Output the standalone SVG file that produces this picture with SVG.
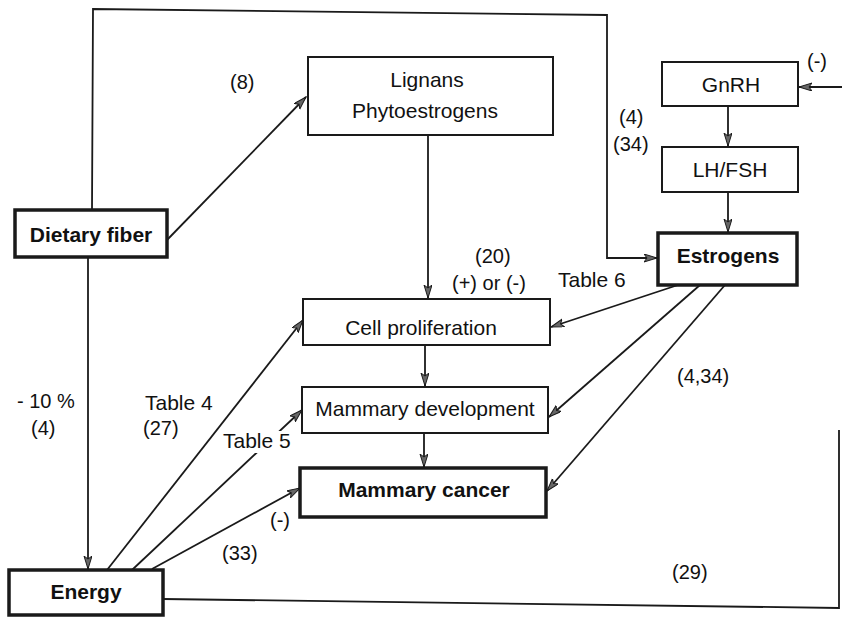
<svg xmlns="http://www.w3.org/2000/svg" width="842" height="621" viewBox="0 0 842 621">
  <style>
    .box { fill: #fff; stroke: #1a1a1a; stroke-width: 2; }
    .bold { fill: #fff; stroke: #1a1a1a; stroke-width: 3.5; }
    .t { font-family: "Liberation Sans", Arial, sans-serif; font-size: 21px; fill: #111; text-anchor: middle; }
    .tb { font-family: "Liberation Sans", Arial, sans-serif; font-size: 21px; font-weight: bold; fill: #111; text-anchor: middle; }
    .lbl { font-family: "Liberation Sans", Arial, sans-serif; font-size: 20px; fill: #111; }
    .ln { fill: none; stroke: #1a1a1a; stroke-width: 1.8; }
    .arr { marker-end: url(#ah); }
  </style>
  <defs>
    <marker id="ah" markerUnits="userSpaceOnUse" markerWidth="14" markerHeight="10" refX="13" refY="4" orient="auto">
      <path d="M0,0 L13,4 L0,8 L3,4 z" fill="#666" stroke="#1a1a1a" stroke-width="1"/>
    </marker>
  </defs>
  <rect width="842" height="621" fill="#fff"/>

  <!-- connectors -->
  <g id="connectors">
    <path class="ln arr" d="M167,240 L306,97"/>
    <path class="ln arr" d="M92,210 L93,9 L607,15 L607,258 L657,258"/>
    <path class="ln arr" d="M842,87 L799,87"/>
    <path class="ln arr" d="M728,106 L728,146"/>
    <path class="ln arr" d="M728,192 L728,232"/>
    <path class="ln arr" d="M428,136 L428,298"/>
    <path class="ln arr" d="M678,285 L551,327"/>
    <path class="ln arr" d="M700,285 L549,417"/>
    <path class="ln arr" d="M725,285 L547,491"/>
    <path class="ln arr" d="M425,345 L425,386"/>
    <path class="ln arr" d="M424,433 L424,467"/>
    <path class="ln arr" d="M88,257 L88,569"/>
    <path class="ln arr" d="M107,570 L303,320"/>
    <path class="ln arr" d="M132,570 L302,410"/>
    <path class="ln arr" d="M152,569 L300,488"/>
    <path class="ln" d="M163,599 L839,608 L839,430"/>
  </g>

  <!-- edge labels -->
  <g id="labels">
    <text class="lbl" x="230" y="89">(8)</text>
    <text class="lbl" x="619" y="124">(4)</text>
    <text class="lbl" x="613" y="151">(34)</text>
    <text class="lbl" x="807" y="68">(-)</text>
    <text class="lbl" x="475" y="263">(20)</text>
    <text class="lbl" x="452" y="290">(+) or (-)</text>
    <text class="lbl" x="558" y="287" style="font-size:21px">Table 6</text>
    <text class="lbl" x="677" y="383">(4,34)</text>
    <text class="lbl" x="672" y="579">(29)</text>
    <text class="lbl" x="17" y="408">- 10 %</text>
    <text class="lbl" x="31" y="435">(4)</text>
    <text class="lbl" x="145" y="410" style="font-size:21px">Table 4</text>
    <text class="lbl" x="143" y="435">(27)</text>
    <rect x="221" y="431" width="73" height="22" fill="#fff"/>
    <text class="lbl" x="223" y="448" style="font-size:21px">Table 5</text>
    <text class="lbl" x="270" y="527">(-)</text>
    <text class="lbl" x="222" y="560">(33)</text>
  </g>

  <!-- nodes -->
  <g id="dietary-fiber">
    <rect class="bold" x="15" y="210" width="152" height="47"/>
    <text class="tb" x="91" y="242">Dietary fiber</text>
  </g>
  <g id="lignans">
    <rect class="box" x="308" y="57" width="245" height="78"/>
    <text class="t" x="427" y="87">Lignans</text>
    <text class="t" x="425" y="118">Phytoestrogens</text>
  </g>
  <g id="gnrh">
    <rect class="box" x="662" y="62" width="136" height="44"/>
    <text class="t" x="731" y="92">GnRH</text>
  </g>
  <g id="lh-fsh">
    <rect class="box" x="662" y="147" width="136" height="45"/>
    <text class="t" x="730" y="177">LH/FSH</text>
  </g>
  <g id="estrogens">
    <rect class="bold" x="658" y="233" width="139" height="52"/>
    <text class="tb" x="728" y="263">Estrogens</text>
  </g>
  <g id="cell-proliferation">
    <rect class="box" x="303" y="299" width="247" height="46"/>
    <text class="t" x="421" y="335">Cell proliferation</text>
  </g>
  <g id="mammary-development">
    <rect class="box" x="302" y="387" width="246" height="46"/>
    <text class="t" x="425" y="416">Mammary development</text>
  </g>
  <g id="mammary-cancer">
    <rect class="bold" x="300" y="468" width="246" height="49"/>
    <text class="tb" x="424" y="497">Mammary cancer</text>
  </g>
  <g id="energy">
    <rect class="bold" x="9" y="570" width="154" height="45"/>
    <text class="tb" x="86" y="599">Energy</text>
  </g>
</svg>
